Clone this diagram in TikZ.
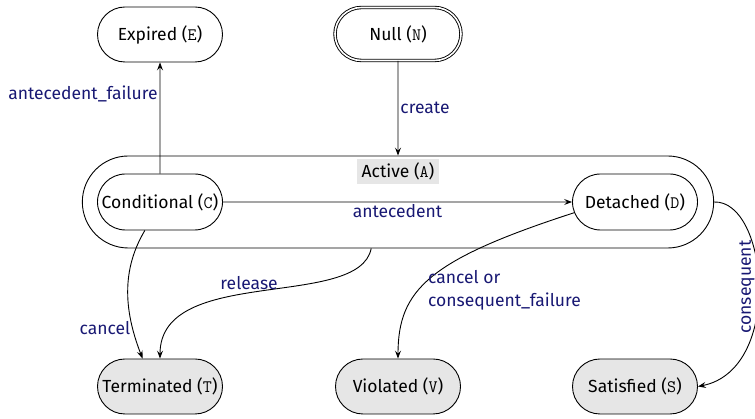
\documentclass[tikz,border=0pt]{standalone}
\usepackage{fontspec}
\setmainfont{Fira Sans}
\usetikzlibrary{shapes.misc,arrows.meta,calc}
\definecolor{lbl}{RGB}{24,24,115}
\definecolor{fillg}{RGB}{230,230,230}
\tikzset{
  state/.style={rounded rectangle, draw, line width=0.9pt, minimum width=125pt, minimum height=55pt, inner sep=0pt},
  final/.style={state, fill=fillg},
  arr/.style={line width=0.9pt, -{Stealth[length=8pt,width=6pt,inset=3pt]}},
  lab/.style={text=lbl, inner sep=2pt},
}
\begin{document}
\begin{tikzpicture}[x=1pt,y=1pt,font=\fontsize{17.5}{23}\selectfont]
\useasboundingbox (0,0) rectangle (755,419);
\node[state] (E) at (160,384.5) {Expired (\texttt{E})};
\node[state, double, double distance=1.6pt, minimum width=126pt, minimum height=53pt] (N) at (398,385) {Null (\texttt{N})};
\node[rounded rectangle, draw, line width=0.9pt, minimum width=638pt, minimum height=92pt] (A) at (398,217) {};
\node[fill=fillg, inner xsep=5pt, inner ysep=4pt] (AL) at (398,247.5) {Active (\texttt{A})};
\node[state, minimum height=56pt] (C) at (160,217) {Conditional (\texttt{C})};
\node[state, minimum height=56pt] (D) at (635,217) {Detached (\texttt{D})};
\node[final] (T) at (160,32.5) {Terminated (\texttt{T})};
\node[final] (V) at (398,32.5) {Violated (\texttt{V})};
\node[final] (S) at (635,32.5) {Satisfied (\texttt{S})};

\draw[arr] (N) -- node[lab, right] {create} (A.north);
\draw[arr] (C) -- node[lab, pos=0.72, left] {antecedent\_failure} (E);
\draw[arr] (C) -- node[lab, below, pos=0.5] {antecedent} (D);
\draw[arr] (C.242) .. controls +(-27,-45) and +(-15,39) .. node[lab, pos=0.75, left] {cancel} (T.122);
\draw[arr] (A.240.5) .. controls +(-12,-62) and +(0,94) .. node[lab, pos=0.5, above, inner sep=0pt, xshift=-12pt, yshift=1pt] {release} (T.north);
\draw[arr] (D.190) .. controls +(-145,-47) and +(0,69) .. node[lab, pos=0.5, anchor=west, align=left, inner sep=0pt, yshift=-13pt, xshift=-4pt] {cancel or\\consequent\_failure} (V.north);
\draw[arr] (A.east) .. controls +(54,2) and +(86,17) .. node[lab, pos=0.5, rotate=90, anchor=south, inner sep=3.5pt] {consequent} (S.east);
\end{tikzpicture}
\end{document}
